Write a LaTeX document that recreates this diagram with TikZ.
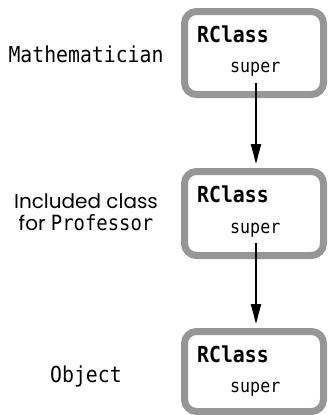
\documentclass[tikz,border=0pt]{standalone}
\usepackage{fontspec}
\setmonofont{DejaVu Sans Mono}[FakeStretch=0.9]
\newfontfamily\labelsans{Poppins}
\usetikzlibrary{arrows.meta}
\definecolor{boxgray}{RGB}{150,150,150}
\tikzset{
  classbox/.style={draw=boxgray, line width=7pt, fill=white, rounded corners=12pt,
    minimum width=139pt, inner sep=0pt},
  rcls/.style={anchor=base west, inner sep=0pt, font=\ttfamily\bfseries\fontsize{22}{22}\selectfont},
  sup/.style={anchor=base west, inner sep=0pt, font=\ttfamily\fontsize{18.5}{18.5}\selectfont},
  lbl/.style={anchor=base, inner sep=0pt, font=\ttfamily\fontsize{22}{22}\selectfont},
  slbl/.style={anchor=base, inner sep=0pt, font=\labelsans\fontsize{20}{20}\selectfont},
  conn/.style={line width=2pt, shorten >=4pt, -{Triangle[length=20pt,width=10pt]}},
}
\begin{document}
\begin{tikzpicture}[x=1pt,y=-1pt]
\useasboundingbox (0,0) rectangle (327,415);
% boxes
\node[classbox, minimum height=83pt] (b1) at (254,53) {};
\node[classbox, minimum height=84pt] (b2) at (254,213.5) {};
\node[classbox, minimum height=80pt] (b3) at (254,371.5) {};
% box texts
\node[rcls] (r1) at (197,42) {RClass};
\node[sup] (s1) at (230,72) {super};
\node[rcls] (r2) at (197,202) {RClass};
\node[sup] (s2) at (230,233) {super};
\node[rcls] (r3) at (197,362) {RClass};
\node[sup] (s3) at (230,392) {super};
% start points of connectors
\coordinate (c1) at (256,83);
\coordinate (c2) at (256,243);
% labels
\node[lbl] (l1) at (86,62) {Mathematician};
\node[slbl] (l2a) at (86,208) {Included class};
\node[slbl] (l2b) at (86,230) {for {\ttfamily\fontsize{21}{21}\selectfont Professor}};
\node[lbl] (l3) at (86,382) {Object};
% connectors
\draw[conn] (c1) -- (c1 |- b2.north);
\draw[conn] (c2) -- (c2 |- b3.north);
\end{tikzpicture}
\end{document}
